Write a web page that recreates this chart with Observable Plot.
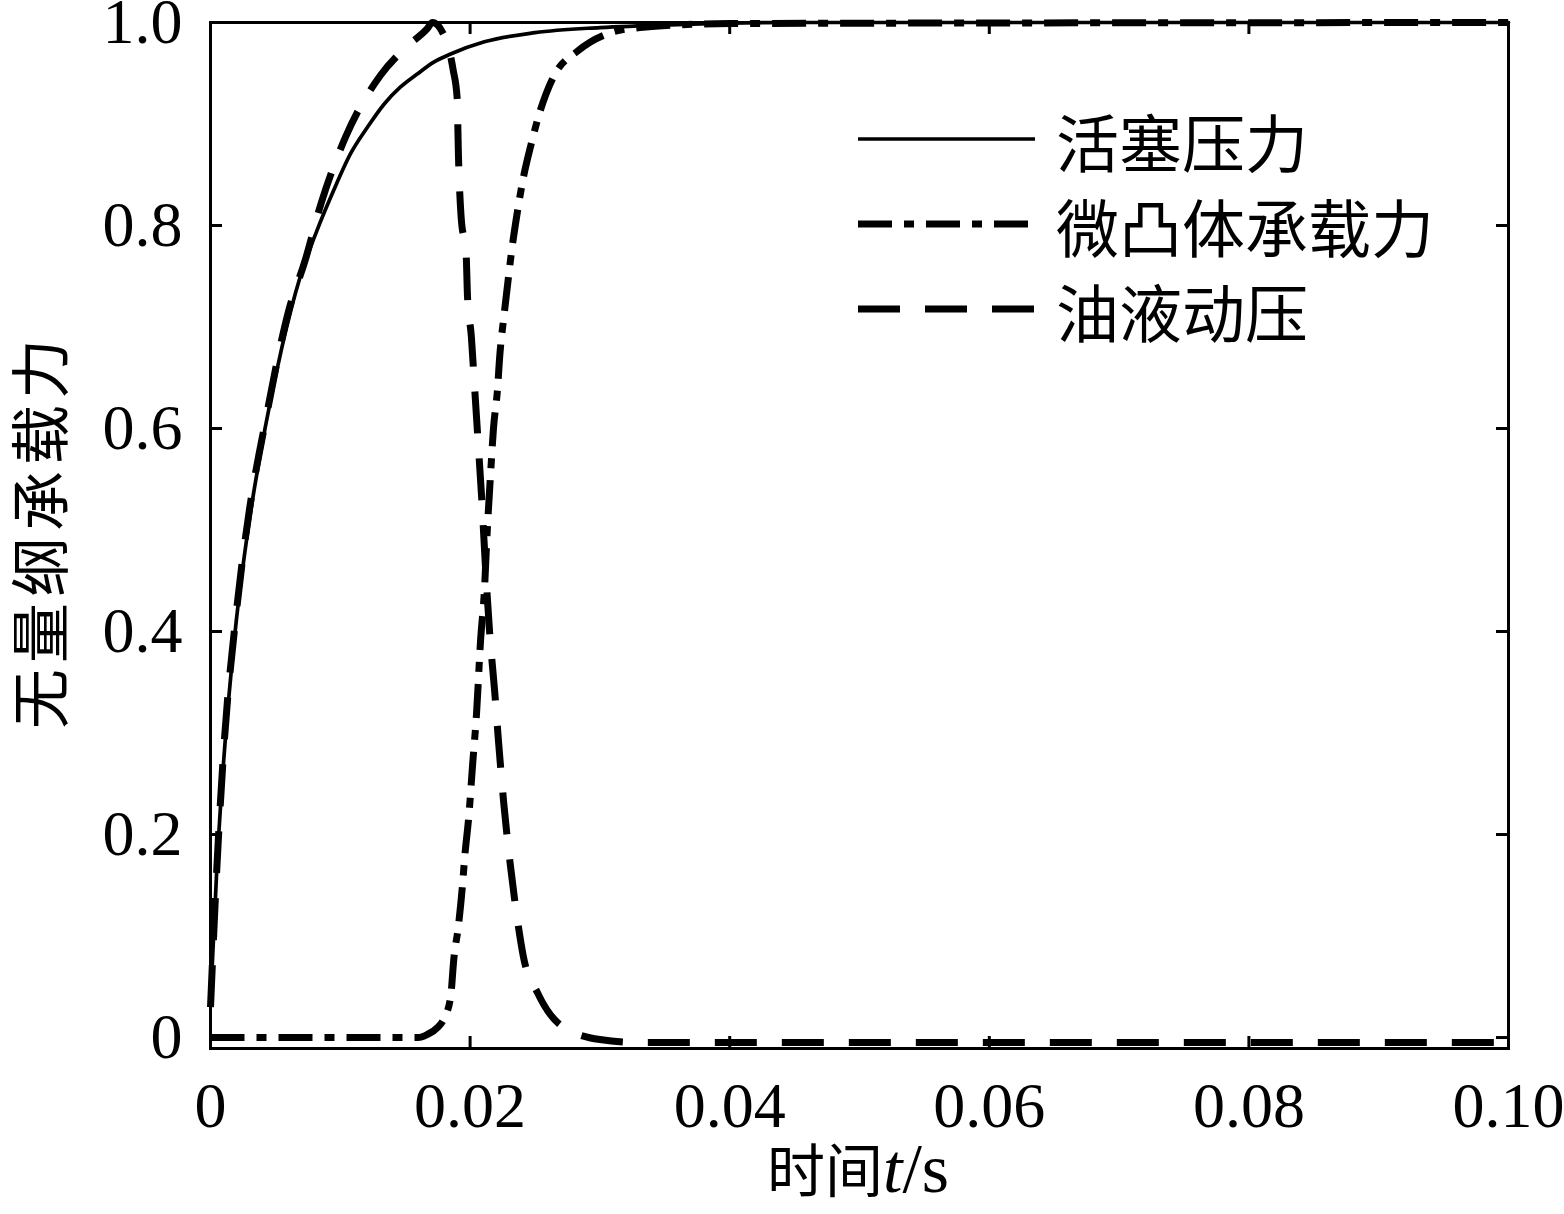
<!DOCTYPE html>
<html>
<head>
<meta charset="utf-8">
<script src="https://cdn.jsdelivr.net/npm/d3@7"></script>
<script src="https://cdn.jsdelivr.net/npm/@observablehq/plot@0.6"></script>
<style>
  html, body { margin: 0; padding: 0; background: #fff; }
  #chart { width: 1564px; height: 1214px; }
</style>
</head>
<body>
<div id="chart"></div>
<script>
// ---- data ----
const seriesNames = ["活塞压力", "微凸体承载力", "油液动压"];

const pistonT = [0, 0.0005, 0.001, 0.0019, 0.003, 0.0042, 0.0055, 0.0069, 0.0082, 0.0095, 0.0108, 0.0121, 0.0134, 0.0146, 0.0159, 0.0172, 0.0185, 0.0211, 0.025, 0.030, 0.036, 0.045, 0.1];
const pistonV = [0.035, 0.17, 0.27, 0.40, 0.51, 0.60, 0.68, 0.749, 0.795, 0.835, 0.871, 0.897, 0.920, 0.936, 0.949, 0.961, 0.969, 0.981, 0.99, 0.995, 0.998, 1.0, 1.0];

const asperityT = [0, 0.016, 0.0167, 0.0175, 0.018, 0.0185, 0.01875, 0.0191, 0.0194, 0.0196, 0.0199, 0.0202, 0.0205, 0.0208, 0.0211, 0.0213, 0.0216, 0.0218, 0.0221, 0.0223, 0.0226, 0.0229, 0.0232, 0.0236, 0.0241, 0.0247, 0.0254, 0.0264, 0.0283, 0.0306, 0.0331, 0.040, 0.1];
const asperityV = [0, 0, 0.003, 0.01, 0.019, 0.04, 0.078, 0.11, 0.148, 0.18, 0.218, 0.27, 0.32, 0.39, 0.44, 0.494, 0.56, 0.60, 0.637, 0.674, 0.71, 0.743, 0.775, 0.81, 0.847, 0.88, 0.913, 0.946, 0.972, 0.989, 0.995, 0.999, 1.0];

const oilT = [0, 0.0005, 0.001, 0.002, 0.003, 0.0042, 0.006, 0.0073, 0.0085, 0.0104, 0.0131, 0.0150, 0.0167, 0.0171, 0.0178, 0.0187, 0.0190, 0.0191, 0.0193, 0.0197, 0.0198, 0.0201, 0.0203, 0.0206, 0.0209, 0.0212, 0.0215, 0.0219, 0.0222, 0.0226, 0.0231, 0.0236, 0.0241, 0.0252, 0.027, 0.030, 0.033, 0.1];
const oilV = [0.03, 0.17, 0.28, 0.42, 0.52, 0.605, 0.715, 0.766, 0.821, 0.887, 0.948, 0.975, 0.994, 1.0, 0.992, 0.953, 0.926, 0.87, 0.81, 0.77, 0.73, 0.69, 0.65, 0.59, 0.53, 0.46, 0.40, 0.34, 0.29, 0.23, 0.17, 0.12, 0.08, 0.044, 0.012, -0.002, -0.005, -0.005];

const xTicks = [0, 0.02, 0.04, 0.06, 0.08, 0.10];
const xTickLabels = ["0", "0.02", "0.04", "0.06", "0.08", "0.10"];
const yTicks = [0, 0.2, 0.4, 0.6, 0.8, 1.0];
const yTickLabels = ["0", "0.2", "0.4", "0.6", "0.8", "1.0"];

const xTitleCn = "时间";
const xTitleVar = "t";
const xTitleUnit = "/s";
const yTitle = "无量纲承载力";

// ---- build tables ----
const piston = pistonT.map((t, i) => ({t, v: pistonV[i]}));
const asperity = asperityT.map((t, i) => ({t, v: asperityV[i]}));
const oil = oilT.map((t, i) => ({t, v: oilV[i]}));

const W = 1564, H = 1214;
const mL = 210, mR = 56, mT = 22, mB = 166;
const plotW = W - mL - mR, plotH = H - mT - mB;
const tickLen = 12;
const serif = "'Liberation Serif', 'Times New Roman', serif";
const cjk = "'Noto Sans CJK SC', sans-serif";

const dashDot = "34,12,10,12";
const dashed = "42,25";
const solidW = 3.7;

const chart = Plot.plot({
  width: W, height: H,
  marginLeft: mL, marginRight: mR, marginTop: mT, marginBottom: mB,
  x: {domain: [0, 0.1]},
  y: {domain: [-0.0108, 1.0]},
  style: {fontFamily: serif, fontSize: "64px", color: "black", background: "white"},
  marks: [
    Plot.line(piston, {x: "t", y: "v", stroke: "black", strokeWidth: solidW, curve: "monotone-x"}),
    Plot.line(asperity, {x: "t", y: "v", stroke: "black", strokeWidth: 7, strokeDasharray: dashDot, strokeLinecap: "butt", curve: "monotone-x"}),
    Plot.line(oil, {x: "t", y: "v", stroke: "black", strokeWidth: 7, strokeDasharray: dashed, strokeLinecap: "butt", curve: "monotone-x"}),
    Plot.frame({stroke: "black", strokeWidth: 3}),
    Plot.tickX(xTicks, {x: d => d, stroke: "black", strokeWidth: 3, insetTop: plotH - tickLen}),
    Plot.tickX(xTicks, {x: d => d, stroke: "black", strokeWidth: 3, insetBottom: plotH - tickLen}),
    Plot.tickY(yTicks, {y: d => d, stroke: "black", strokeWidth: 3, insetRight: plotW - tickLen}),
    Plot.tickY(yTicks, {y: d => d, stroke: "black", strokeWidth: 3, insetLeft: plotW - tickLen}),
    Plot.axisX(xTicks, {anchor: "bottom", tickSize: 0, tickPadding: 33, label: null,
      tickFormat: d => xTickLabels[xTicks.indexOf(d)], fontSize: 64, fontFamily: serif}),
    Plot.axisY(yTicks, {anchor: "left", tickSize: 0, tickPadding: 28, label: null,
      tickFormat: d => yTickLabels[yTicks.indexOf(d)], fontSize: 64, fontFamily: serif})
  ]
});

document.getElementById("chart").appendChild(chart);

// ---- axis titles and legend ----
const svg = d3.select(chart);

const xt = svg.append("text")
  .attr("x", 858)
  .attr("y", 1192)
  .attr("text-anchor", "middle")
  .attr("fill", "black")
  .style("font-size", "70px")
  .style("font-family", serif);
xt.append("tspan").style("font-family", cjk).style("font-size", "58px").text(xTitleCn);
xt.append("tspan").style("font-style", "italic").text(xTitleVar);
xt.append("tspan").text(xTitleUnit);

svg.append("text")
  .attr("transform", "translate(36,531) rotate(-90)")
  .attr("text-anchor", "middle")
  .attr("dominant-baseline", "central")
  .attr("fill", "black")
  .style("font-family", cjk)
  .style("font-size", "60px")
  .style("letter-spacing", "6px")
  .text(yTitle);

const legendStyles = [
  {w: solidW, dash: null},
  {w: 7, dash: dashDot},
  {w: 7, dash: dashed}
];
const legendY = [139, 224, 309];
const lg = svg.append("g");
seriesNames.forEach((name, i) => {
  const ln = lg.append("line")
    .attr("x1", 858).attr("x2", 1035)
    .attr("y1", legendY[i]).attr("y2", legendY[i])
    .attr("stroke", "black")
    .attr("stroke-linecap", "butt")
    .attr("stroke-width", legendStyles[i].w);
  if (legendStyles[i].dash) ln.attr("stroke-dasharray", legendStyles[i].dash);
  lg.append("text")
    .attr("x", 1056).attr("y", legendY[i])
    .attr("text-anchor", "start")
    .attr("dominant-baseline", "central")
    .attr("fill", "black")
    .style("font-family", cjk)
    .style("font-size", "63px")
    .text(name);
});
</script>
</body>
</html>
